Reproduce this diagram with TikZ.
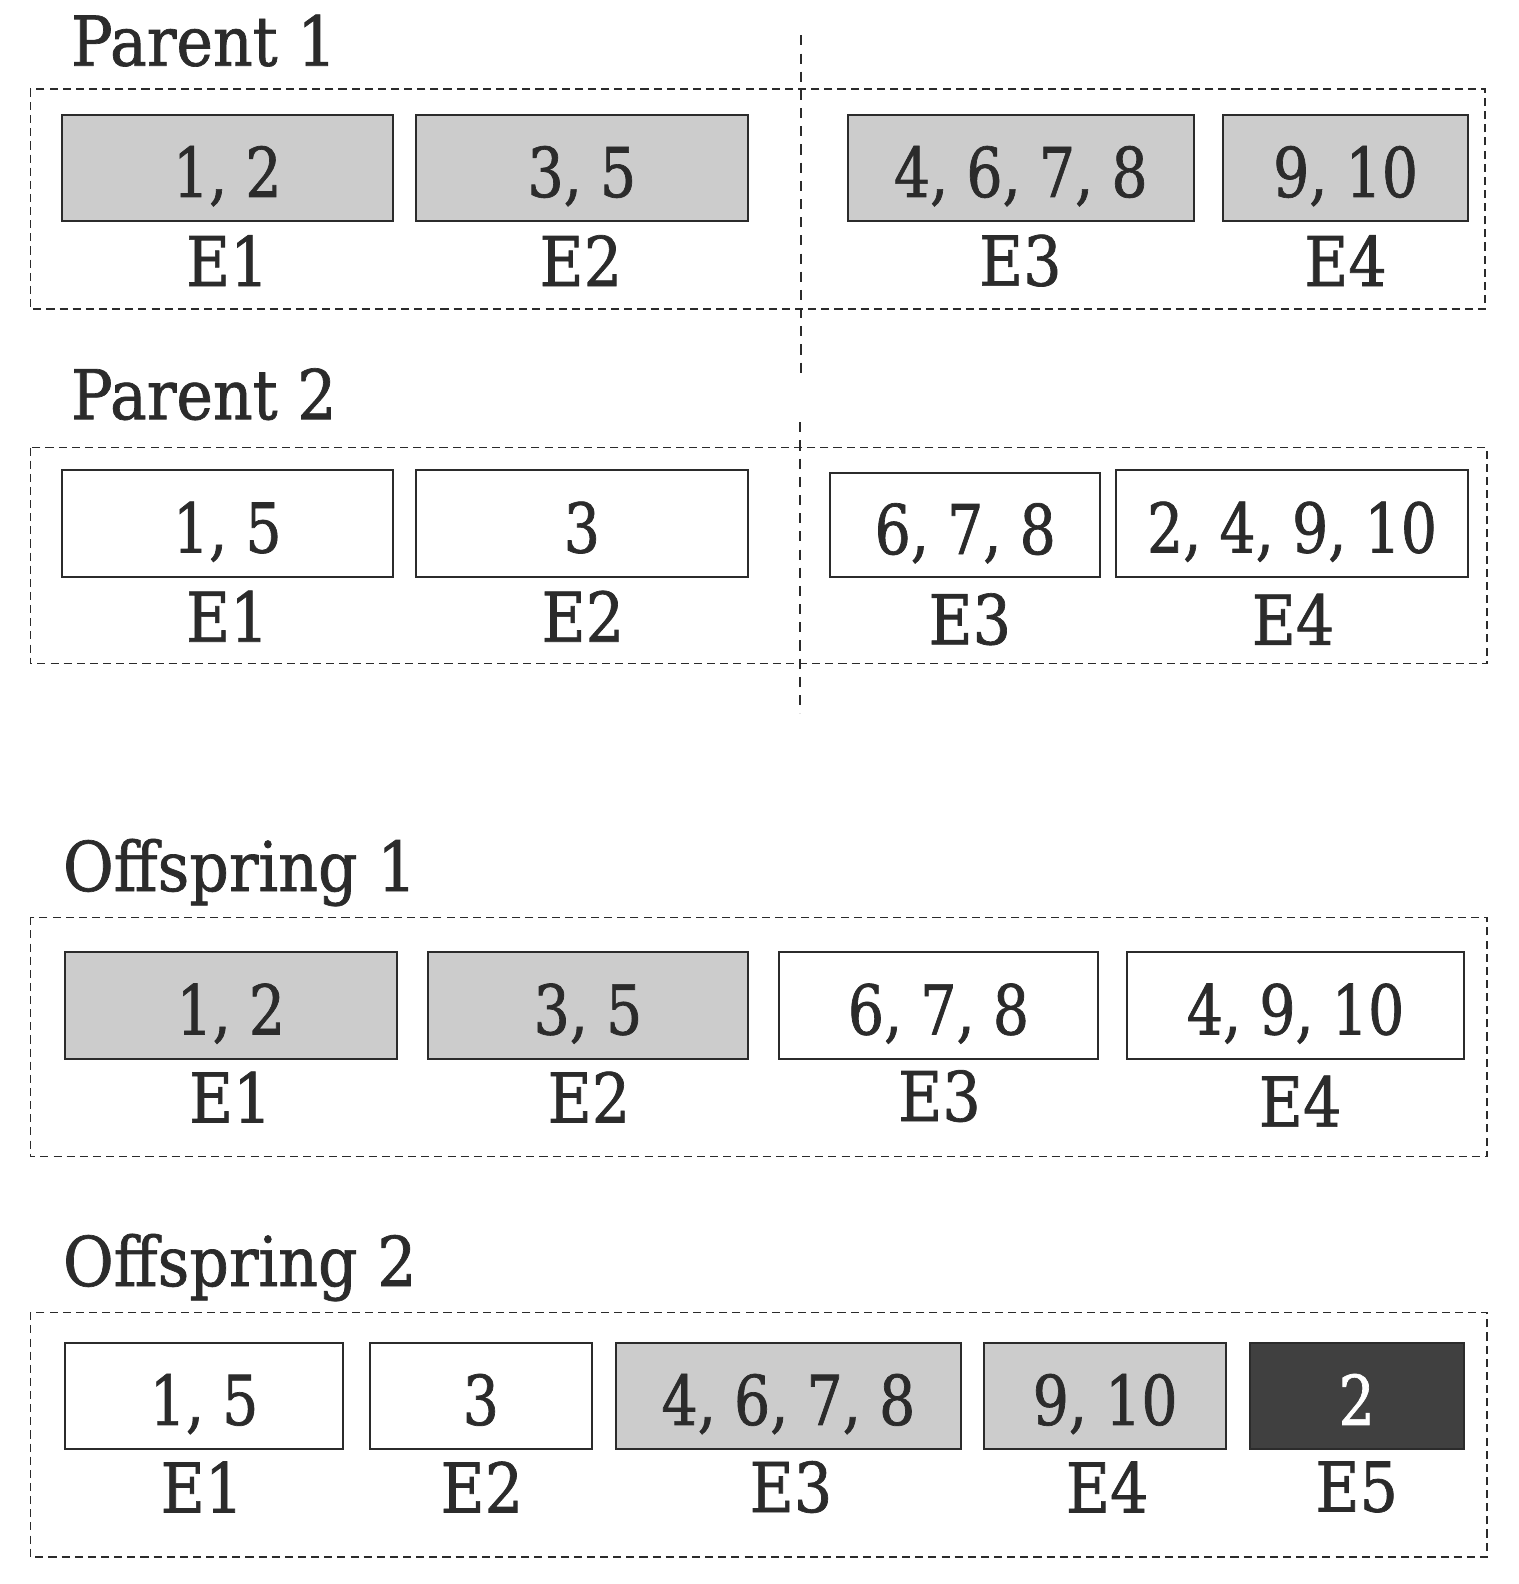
\documentclass[tikz,border=0pt]{standalone}
\usepackage{fontspec}
\setmainfont{DejaVu Serif}[FakeStretch=0.83,FakeBold=1]
\newfontfamily\ttlfont{DejaVu Serif}[FakeStretch=0.9,FakeBold=1]
\newfontfamily\labfont{DejaVu Serif}[FakeStretch=0.88,FakeBold=1]
\definecolor{ink}{HTML}{2B2B2B}
\definecolor{lgray}{HTML}{CCCCCC}
\definecolor{dgray}{HTML}{404040}
\begin{document}
\begin{tikzpicture}[x=0.5pt,y=-0.5pt,
  every node/.style={text=ink,font=\fontsize{34}{40}\selectfont},
  cell/.style={draw=ink,line width=1pt,inner sep=0pt,minimum height=52.5pt,text height=29pt,text depth=0pt},
  gcell/.style={cell,fill=lgray},
  wcell/.style={cell,fill=white},
  kcell/.style={cell,fill=dgray,text=white},
  lab/.style={inner sep=0pt,font=\labfont\fontsize{34}{40}\selectfont},
  ttl/.style={inner sep=0pt,anchor=base west,font=\ttlfont\fontsize{34}{40}\selectfont},
  frame/.style={draw=ink,line width=0.75pt,dash pattern=on 4pt off 2.5pt},
  cut/.style={draw=ink,line width=0.75pt,dash pattern=on 5pt off 4pt}]
\useasboundingbox (0,0) rectangle (1503,1568);

% Parent 1
\node[ttl] (t1) at (70,65) {Parent 1};
\draw[frame] (30,88) rectangle (1470,306);
\node[gcell,minimum width=164pt] (p1e1) at (225,166) {1, 2};
\node[gcell,minimum width=164pt] (p1e2) at (576,166) {3, 5};
\node[gcell,minimum width=171.5pt] (p1e3) at (1010.5,166) {4, 6, 7, 8};
\node[gcell,minimum width=121pt] (p1e4) at (1332,166) {9, 10};
\node[lab] (p1l1) at (225,258) {E1};
\node[lab] (p1l2) at (575,258) {E2};
\node[lab] (p1l3) at (1010,258) {E3};
\node[lab] (p1l4) at (1332,258) {E4};
\coordinate (c1a) at (793,35);
\coordinate (c1b) at (793,370);
\draw[cut] (c1a) -- (c1b);

% Parent 2
\node[ttl] (t2) at (70,415) {Parent 2};
\draw[frame] (30,443) rectangle (1472,657);
\node[wcell,minimum width=164pt,minimum height=53pt] (p2e1) at (225,518) {1, 5};
\node[wcell,minimum width=164pt,minimum height=53pt] (p2e2) at (576,518) {3};
\node[wcell,minimum width=133.5pt,minimum height=51.5pt] (p2e3) at (955.5,519.5) {6, 7, 8};
\node[wcell,minimum width=174pt,minimum height=53pt] (p2e4) at (1279,518) {2, 4, 9, 10};
\node[lab] (p2l1) at (225,610) {E1};
\node[lab] (p2l2) at (577,610) {E2};
\node[lab] (p2l3) at (960,613) {E3};
\node[lab] (p2l4) at (1280,613) {E4};
\coordinate (c2a) at (792,418);
\coordinate (c2b) at (792,706);
\draw[cut] (c2a) -- (c2b);

% Offspring 1
\node[ttl] (t3) at (62,882) {Offspring 1};
\draw[frame] (30,908) rectangle (1472,1145);
\node[gcell,minimum width=164.5pt,minimum height=53pt] (o1e1) at (228.5,995) {1, 2};
\node[gcell,minimum width=158pt,minimum height=53pt] (o1e2) at (582,995) {3, 5};
\node[wcell,minimum width=158pt,minimum height=53pt] (o1e3) at (929,995) {6, 7, 8};
\node[wcell,minimum width=166.5pt,minimum height=53pt] (o1e4) at (1282.5,995) {4, 9, 10};
\node[lab] (o1l1) at (228,1086) {E1};
\node[lab] (o1l2) at (583,1086) {E2};
\node[lab] (o1l3) at (930,1085) {E3};
\node[lab] (o1l4) at (1287,1090) {E4};

% Offspring 2
\node[ttl] (t4) at (62,1273) {Offspring 2};
\draw[frame] (30,1299) rectangle (1472,1541);
\node[wcell,minimum width=138pt] (o2e1) at (202,1381.5) {1, 5};
\node[wcell,minimum width=110pt] (o2e2) at (476,1381.5) {3};
\node[gcell,minimum width=170.5pt] (o2e3) at (780.5,1381.5) {4, 6, 7, 8};
\node[gcell,minimum width=120pt] (o2e4) at (1094,1381.5) {9, 10};
\node[kcell,minimum width=106pt] (o2e5) at (1343,1381.5) {2};
\node[lab] (o2l1) at (200,1472) {E1};
\node[lab] (o2l2) at (477,1472) {E2};
\node[lab] (o2l3) at (783,1472) {E3};
\node[lab] (o2l4) at (1096,1472) {E4};
\node[lab] (o2l5) at (1343,1472) {E5};
\end{tikzpicture}
\end{document}
